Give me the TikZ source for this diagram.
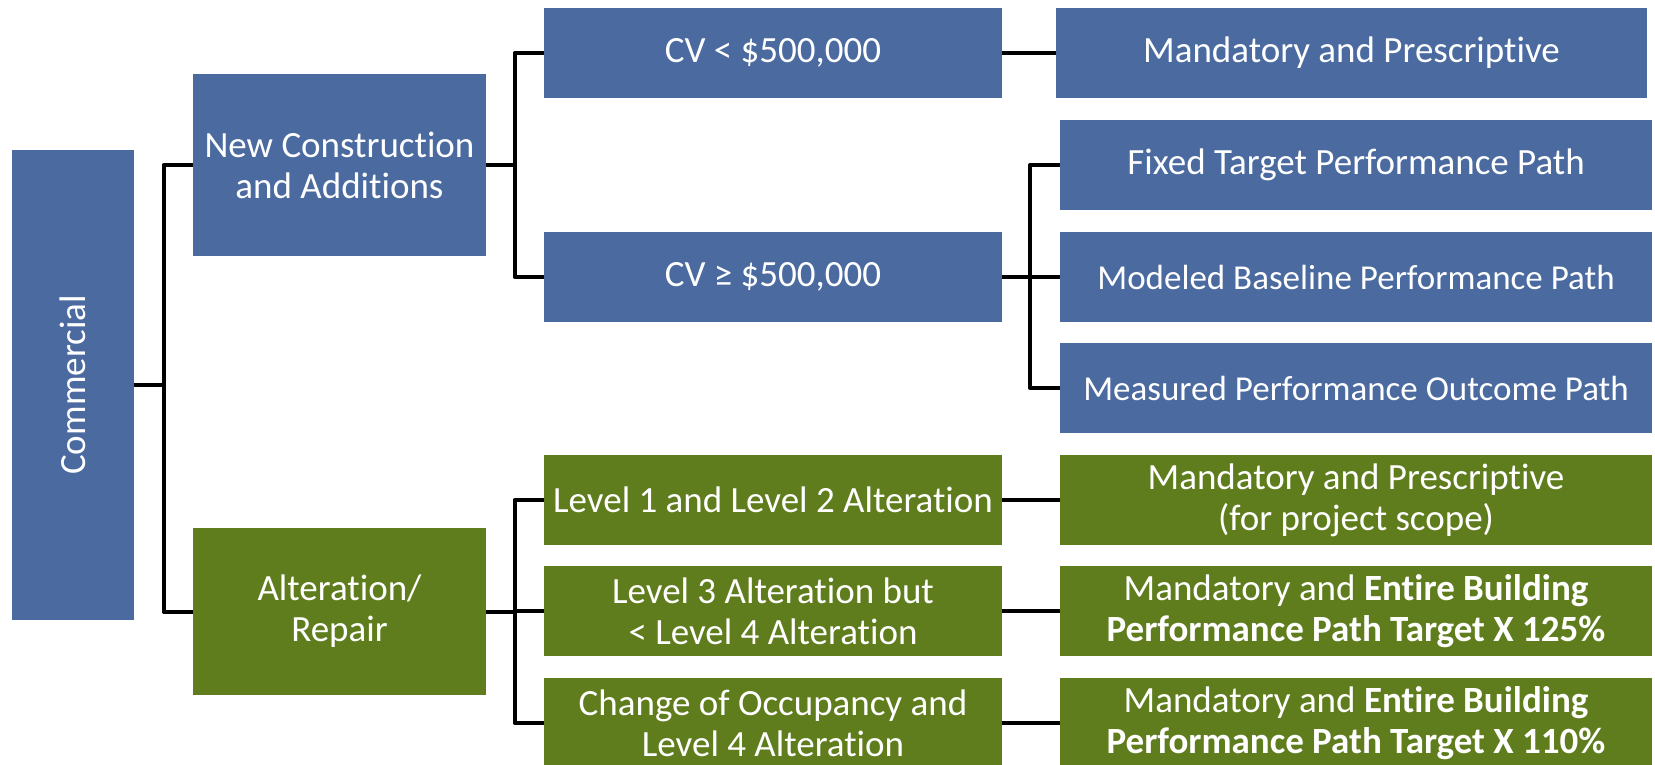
\documentclass[tikz,border=0pt]{standalone}
\usepackage{fontspec}
\setmainfont{Carlito}[Ligatures=NoCommon]
\definecolor{boxblue}{HTML}{4A6AA0}
\definecolor{boxgreen}{HTML}{607D1E}
\begin{document}
\begin{tikzpicture}[x=1pt,y=-1pt,
  bx/.style={rectangle, inner sep=0pt, text=white, align=center,
    font=\fontsize{37}{41}\selectfont},
  bb/.style={bx, fill=boxblue},
  gb/.style={bx, fill=boxgreen},
  smallfont/.style={font=\fontsize{35}{41}\selectfont},
  col1/.style={minimum width=293pt},
  col2/.style={minimum width=458pt, minimum height=90pt},
  col3/.style={minimum width=592pt, minimum height=90pt},
  conn/.style={draw=black, line width=4pt, line join=round}]
\useasboundingbox (0,0) rectangle (1655,765);
% root
\node[bb, minimum width=122pt, minimum height=470pt] (com) at (73,385) {};
\node[bx, rotate=90] (comtxt) at (com.center) {Commercial};
% level 1
\node[bb, col1, minimum height=182pt] (nc) at (339.5,165) {New Construction\\and Additions};
\node[gb, col1, minimum height=167pt] (alt) at (339.5,611.5) {Alteration/\\Repair};
% level 2
\node[bb, col2] (cvl) at (773,53) {CV < \$500,000};
\node[bb, col2] (cvg) at (773,277) {CV ≥ \$500,000};
\node[gb, col2] (l12) at (773,500) {Level 1 and Level 2 Alteration};
\node[gb, col2] (l3) at (773,611) {Level 3 Alteration but\\< Level 4 Alteration};
\node[gb, col2] (l4) at (773,723) {Change of Occupancy and\\Level 4 Alteration};
% level 3
\node[bb, minimum width=591pt, minimum height=90pt] (mp) at (1351.5,53) {Mandatory and Prescriptive};
\node[bb, col3] (ft) at (1356,165) {Fixed Target Performance Path};
\node[bb, col3, smallfont] (mb) at (1356,277) {Modeled Baseline Performance Path};
\node[bb, col3, smallfont] (mo) at (1356,388) {Measured Performance Outcome Path};
\node[gb, col3] (gmp) at (1356,500) {Mandatory and Prescriptive\\(for project scope)};
\node[gb, col3] (g125) at (1356,611) {Mandatory and \textbf{Entire Building}\\\textbf{Performance Path Target X 125\%}};
\node[gb, col3] (g110) at (1356,723) {Mandatory and \textbf{Entire Building}\\\textbf{Performance Path Target X 110\%}};
% junction x positions
\coordinate (j1) at (163.5,0);
\coordinate (j2) at (514.5,0);
\coordinate (j3) at (1030,0);
% connectors
\draw[conn] (com.east) -- (com.east -| j1);
\draw[conn] (nc.west) -- (nc.west -| j1) -- (alt.west -| j1) -- (alt.west);
\draw[conn] (nc.east) -- (nc.east -| j2);
\draw[conn] (cvl.west) -- (cvl.west -| j2) -- (cvg.west -| j2) -- (cvg.west);
\draw[conn] (cvl.east) -- (mp.west);
\draw[conn] (cvg.east) -- (cvg.east -| j3);
\draw[conn] (ft.west) -- (ft.west -| j3) -- (mo.west -| j3) -- (mo.west);
\draw[conn] (mb.west -| j3) -- (mb.west);
\draw[conn] (alt.east) -- (alt.east -| j2);
\draw[conn] (l12.west) -- (l12.west -| j2) -- (l4.west -| j2) -- (l4.west);
\draw[conn] (l3.west -| j2) -- (l3.west);
\draw[conn] (l12.east) -- (gmp.west);
\draw[conn] (l3.east) -- (g125.west);
\draw[conn] (l4.east) -- (g110.west);
\end{tikzpicture}
\end{document}
